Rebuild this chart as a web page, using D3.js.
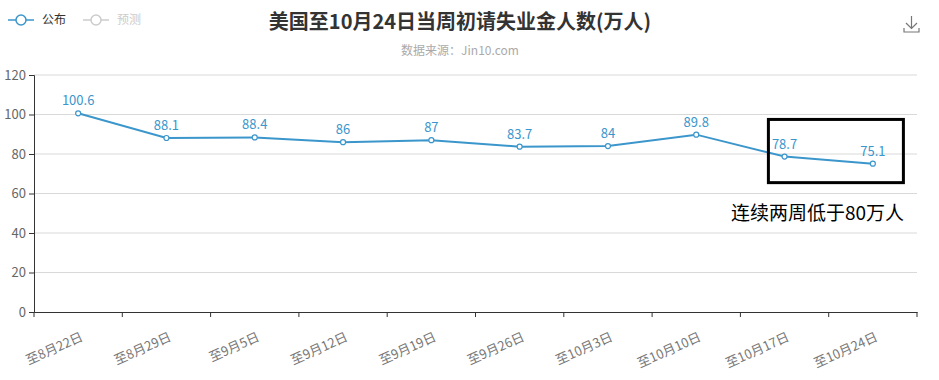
<!DOCTYPE html>
<html>
<head>
<meta charset="utf-8">
<script src="https://cdn.jsdelivr.net/npm/d3@7"></script>
<style>
  body { margin: 0; background: #fff; }
  text { font-family: "Microsoft YaHei", "Noto Sans CJK SC", sans-serif; }
</style>
</head>
<body>
<div class="chart"></div>
<script>
var categories = ["至8月22日", "至8月29日", "至9月5日", "至9月12日", "至9月19日",
                  "至9月26日", "至10月3日", "至10月10日", "至10月17日", "至10月24日"];
var published = [100.6, 88.1, 88.4, 86, 87, 83.7, 84, 89.8, 78.7, 75.1];
var yTicks = [0, 20, 40, 60, 80, 100, 120];

var width = 939,
    height = 380;
var margin = {left: 34, right: 22, top: 75, bottom: 68};
var lineColor = "#3b96cc";

var svg = d3.select(".chart").append("svg")
    .attr("width", width)
    .attr("height", height);

var x = d3.scaleBand()
    .domain(categories)
    .range([margin.left, width - margin.right]);

var y = d3.scaleLinear()
    .domain([0, 120])
    .range([height - margin.bottom, margin.top]);

// gridlines
svg.append("g")
    .selectAll("line")
    .data(yTicks.slice(1))
    .enter().append("line")
    .attr("x1", margin.left)
    .attr("x2", width - margin.right)
    .attr("y1", function(d) { return y(d); })
    .attr("y2", function(d) { return y(d); })
    .attr("stroke", "#d9d9d9")
    .attr("stroke-width", 1);

// y axis
var yAxis = svg.append("g")
    .attr("transform", "translate(" + margin.left + ",0)")
    .call(d3.axisLeft(y).tickValues(yTicks).tickSize(5).tickPadding(3));
yAxis.selectAll("text").attr("fill", "#666").style("font-size", "13px");
yAxis.selectAll("line").attr("stroke", "#333");
yAxis.select(".domain").attr("stroke", "#333");

// x axis
var xAxis = svg.append("g")
    .attr("transform", "translate(0," + y(0) + ")")
    .call(d3.axisBottom(x).tickSize(0).tickFormat(""));
xAxis.select(".domain").attr("stroke", "#333");

// boundary ticks
var edges = categories.map(function(c) { return x(c); }).concat([x.range()[1]]);
svg.append("g")
    .selectAll("line")
    .data(edges)
    .enter().append("line")
    .attr("x1", function(d) { return d; })
    .attr("x2", function(d) { return d; })
    .attr("y1", y(0))
    .attr("y2", y(0) + 5)
    .attr("stroke", "#333");

svg.append("g")
    .selectAll("text")
    .data(categories)
    .enter().append("text")
    .attr("transform", function(d) {
        return "translate(" + (x(d) + x.bandwidth() / 2 + 2) + "," + (y(0) + 20) + ") rotate(-24)";
    })
    .attr("text-anchor", "end")
    .attr("dy", "0.7em")
    .attr("fill", "#777")
    .style("font-size", "13px")
    .text(function(d) { return d; });

// line
var cx = function(d, i) { return x(categories[i]) + x.bandwidth() / 2; };
var line = d3.line()
    .x(cx)
    .y(function(d) { return y(d); });

svg.append("path")
    .datum(published)
    .attr("d", line)
    .attr("fill", "none")
    .attr("stroke", lineColor)
    .attr("stroke-width", 2);

svg.append("g")
    .selectAll("circle")
    .data(published)
    .enter().append("circle")
    .attr("cx", cx)
    .attr("cy", function(d) { return y(d); })
    .attr("r", 2.5)
    .attr("fill", "#fff")
    .attr("stroke", lineColor)
    .attr("stroke-width", 1.2);

svg.append("g")
    .selectAll("text")
    .data(published)
    .enter().append("text")
    .attr("x", cx)
    .attr("y", function(d) { return y(d) - 8; })
    .attr("text-anchor", "middle")
    .attr("fill", lineColor)
    .style("font-size", "13px")
    .text(function(d) { return d; });

// title
svg.append("text")
    .attr("x", 460)
    .attr("y", 29)
    .attr("text-anchor", "middle")
    .attr("fill", "#333")
    .style("font-size", "20px")
    .style("font-weight", "bold")
    .text("美国至10月24日当周初请失业金人数(万人)");

svg.append("text")
    .attr("x", 460)
    .attr("y", 55)
    .attr("text-anchor", "middle")
    .attr("fill", "#aaa")
    .style("font-size", "12px")
    .text("数据来源：Jin10.com");

// legend
var legend = [{name: "公布", color: lineColor, text: "#333", x: 8},
              {name: "预测", color: "#ccc", text: "#ccc", x: 83}];
var lg = svg.append("g").selectAll("g")
    .data(legend)
    .enter().append("g")
    .attr("transform", function(d) { return "translate(" + d.x + ",20)"; });
lg.append("line")
    .attr("x1", 0).attr("x2", 26)
    .attr("stroke", function(d) { return d.color; })
    .attr("stroke-width", 1.5);
lg.append("circle")
    .attr("cx", 13).attr("r", 5)
    .attr("fill", "#fff")
    .attr("stroke", function(d) { return d.color; })
    .attr("stroke-width", 1.5);
lg.append("text")
    .attr("x", 34).attr("dy", "0.35em")
    .attr("fill", function(d) { return d.text; })
    .style("font-size", "12px")
    .text(function(d) { return d.name; });

// download icon
var icon = svg.append("g")
    .attr("transform", "translate(904,16)")
    .attr("fill", "none")
    .attr("stroke", "#777")
    .attr("stroke-width", 1.2);
icon.append("path").attr("d", "M7.5,0 V12 M2,7 L7.5,12.5 L13,7");
icon.append("path").attr("d", "M0,12 V16 H15 V12");

// annotation box
svg.append("rect")
    .attr("x", x(categories[8]) + 28)
    .attr("y", y(97.5))
    .attr("width", 135)
    .attr("height", y(65.5) - y(97.5))
    .attr("fill", "none")
    .attr("stroke", "#000")
    .attr("stroke-width", 3);

svg.append("text")
    .attr("x", 904)
    .attr("y", 220)
    .attr("text-anchor", "end")
    .attr("fill", "#000")
    .style("font-size", "19px")
    .text("连续两周低于80万人");
</script>
</body>
</html>
